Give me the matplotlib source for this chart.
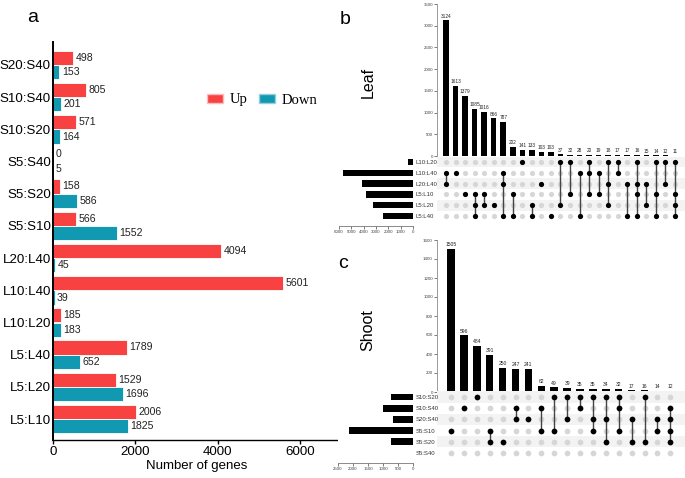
import matplotlib
matplotlib.use('Agg')
import matplotlib.pyplot as plt
from matplotlib.patches import Patch
import numpy as np

plt.rcParams['font.family'] = ['Liberation Sans', 'DejaVu Sans']

# panel a: DEG counts per comparison
comparisons = ['L5:L10', 'L5:L20', 'L5:L40', 'L10:L20', 'L10:L40', 'L20:L40',
               'S5:S10', 'S5:S20', 'S5:S40', 'S10:S20', 'S10:S40', 'S20:S40']
up = [2006, 1529, 1789, 185, 5601, 4094, 566, 158, 0, 571, 805, 498]
down = [1825, 1696, 652, 183, 39, 45, 1552, 586, 5, 164, 201, 153]

# panel b: leaf upset
leaf_sets = ['L10:L20', 'L10:L40', 'L20:L40', 'L5:L10', 'L5:L20', 'L5:L40']
leaf_set_sizes = [368, 5640, 4139, 3831, 3225, 2441]
leaf_counts = [3124, 1613, 1379, 1085, 1016, 866, 787, 202, 141, 133, 103, 103,
               37, 32, 28, 20, 19, 18, 17, 17, 16, 15, 14, 12, 11]
leaf_members = [[1, 2], [1], [3], [3, 4, 5], [3, 4], [4], [1, 2, 5], [3, 5], [0],
                [4, 5], [2], [5], [0, 4], [0, 3], [1, 5], [0, 1, 3], [1, 3],
                [0, 2, 4], [0, 1], [2, 5], [0, 2, 3, 5], [2, 4], [0, 3, 5],
                [0, 2], [0, 3, 4, 5]]

# panel c: shoot upset
shoot_sets = ['S10:S20', 'S10:S40', 'S20:S40', 'S5:S10', 'S5:S20', 'S5:S40']
shoot_set_sizes = [735, 1006, 651, 2118, 744, 5]
shoot_counts = [1505, 596, 484, 391, 250, 247, 241, 62, 49, 39, 35, 35, 34, 32,
                17, 16, 14, 12]
shoot_members = [[3], [1], [0], [3, 4], [4], [1, 2], [2], [1, 3], [0, 3], [0, 2],
                 [0, 1], [0, 2, 3], [0, 2, 4], [0, 1, 3], [2, 4], [0, 4], [2, 3],
                 [1, 2, 3, 4]]

W, H = 685, 478
fig = plt.figure(figsize=(W / 100, H / 100), dpi=100)


def px_axes(x0, y0, x1, y1):
    return fig.add_axes([x0 / W, 1 - y1 / H, (x1 - x0) / W, (y1 - y0) / H])


# ---- panel a ----
red = '#f84242'
teal = '#1299b2'
ax = px_axes(53, 42, 341, 440)
y = np.arange(len(comparisons))
ax.barh(y + 0.225, up, height=0.44, color=red, edgecolor='white', linewidth=0.6)
ax.barh(y - 0.225, down, height=0.44, color=teal, edgecolor='white', linewidth=0.6)
for i in range(len(comparisons)):
    ax.text(up[i] + 60, y[i] + 0.225, str(up[i]), va='center', ha='left',
            fontsize=7.6, color='#222')
    ax.text(down[i] + 60, y[i] - 0.225, str(down[i]), va='center', ha='left',
            fontsize=7.6, color='#222')
ax.set_ylim(-0.65, 11.71)
ax.set_xlim(0, 7000)
ax.set_yticks(y)
ax.set_yticklabels(comparisons, fontsize=9.6)
ax.tick_params(axis='y', length=0, pad=1.5)
ax.set_xticks([0, 2000, 4000, 6000])
ax.tick_params(axis='x', labelsize=9.6, length=3, width=1, pad=1.5)
ax.set_xlabel('Number of genes', fontsize=9.5, labelpad=1)
for s in ['top', 'right']:
    ax.spines[s].set_visible(False)
ax.spines['left'].set_linewidth(1.4)
ax.spines['bottom'].set_linewidth(1.0)

fig.legend(handles=[Patch(facecolor=red, edgecolor='#fbb'), Patch(facecolor=teal, edgecolor='#9cd')],
           labels=['Up', 'Down'], loc='center left', ncol=2, frameon=False,
           bbox_to_anchor=(200 / W, 1 - 100 / H), borderpad=0,
           prop={'family': 'Liberation Serif', 'size': 10.5},
           handlelength=1.1, handleheight=0.65, handletextpad=0.45, columnspacing=0.8)

fig.text(33 / W, 1 - 17 / H, 'a', fontsize=14, ha='center', va='center')
fig.text(345 / W, 1 - 20 / H, 'b', fontsize=14, ha='center', va='center')
fig.text(343 / W, 1 - 263 / H, 'c', fontsize=14, ha='center', va='center')


def draw_upset(sets, set_sizes, counts, members, top, bottom, col0, csp,
               row0, rsp, set_left, ymax, ystep, smax, sstep, dot, lab_fs,
               name, name_y):
    x_left, x_right = 437, 681
    xlo = -(col0 - x_left) / csp
    xhi = xlo + (x_right - x_left) / csp
    n = len(counts)
    cols = np.arange(n)

    # intersection bars
    bx = px_axes(x_left, top, x_right, bottom)
    bx.bar(cols, counts, width=0.58, color='black')
    for c, v in zip(cols, counts):
        bx.text(c, v + ymax * 0.012, str(v), ha='center', va='bottom',
                fontsize=lab_fs, color='#222')
    bx.set_xlim(xlo, xhi)
    bx.set_ylim(0, ymax)
    bx.set_xticks([])
    bx.set_yticks(np.arange(0, ymax + 1, ystep))
    bx.tick_params(axis='y', labelsize=3.2, length=2, width=0.5, pad=1,
                   colors='#444')
    for s in ['top', 'right', 'bottom']:
        bx.spines[s].set_visible(False)
    bx.spines['left'].set_color('#999')
    bx.spines['left'].set_linewidth(0.7)

    # matrix
    mtop = row0 - rsp / 2
    mbot = row0 + 5.5 * rsp
    mx = px_axes(x_left, mtop, x_right + 4, mbot)
    for r in range(0, 6, 2):
        mx.axhspan(r - 0.5, r + 0.5, color='#f3f3f3', lw=0, zorder=0)
    xx, yy = np.meshgrid(cols, np.arange(6))
    mx.scatter(xx.ravel(), yy.ravel(), s=dot, color='#d6d6d6', lw=0, zorder=1)
    for c, m in zip(cols, members):
        if len(m) > 1:
            mx.plot([c, c], [min(m), max(m)], color='#444', lw=1.0, zorder=2)
        mx.scatter([c] * len(m), m, s=dot, color='black', lw=0, zorder=3)
    mx.set_xlim(xlo, xhi + 4 / csp)
    mx.set_ylim(5.5, -0.5)
    mx.axis('off')

    # set sizes
    sx = px_axes(set_left, mtop, 413, mbot)
    sx.barh(np.arange(6), set_sizes, height=0.6, color='black')
    sx.set_xlim(smax, 0)
    sx.set_ylim(5.5, -0.5)
    sx.yaxis.tick_right()
    sx.set_yticks(np.arange(6))
    sx.set_yticklabels(sets, fontsize=4.3, color='#333')
    sx.tick_params(axis='y', length=0, pad=2)
    sx.set_xticks(np.arange(0, smax + 1, sstep))
    sx.tick_params(axis='x', labelsize=3.2, length=2, width=0.5, pad=1,
                   colors='#444')
    for s in ['top', 'right', 'left']:
        sx.spines[s].set_visible(False)
    sx.spines['bottom'].set_position(('outward', 3))
    sx.spines['bottom'].set_color('#777')
    sx.spines['bottom'].set_linewidth(0.6)

    fig.text(368 / W, 1 - name_y / H, name, rotation=90, fontsize=11.5,
             ha='center', va='center')


draw_upset(leaf_sets, leaf_set_sizes, leaf_counts, leaf_members,
           top=4, bottom=156, col0=446, csp=9.54, row0=162, rsp=10.8,
           set_left=339, ymax=3500, ystep=500, smax=6000, sstep=1000,
           dot=14, lab_fs=3.4, name='Leaf', name_y=82)
draw_upset(shoot_sets, shoot_set_sizes, shoot_counts, shoot_members,
           top=240, bottom=392, col0=451, csp=12.9, row0=397, rsp=11.2,
           set_left=338, ymax=1600, ystep=200, smax=2500, sstep=500,
           dot=17, lab_fs=3.6, name='Shoot', name_y=330)

fig.savefig('out.png', dpi=100)
